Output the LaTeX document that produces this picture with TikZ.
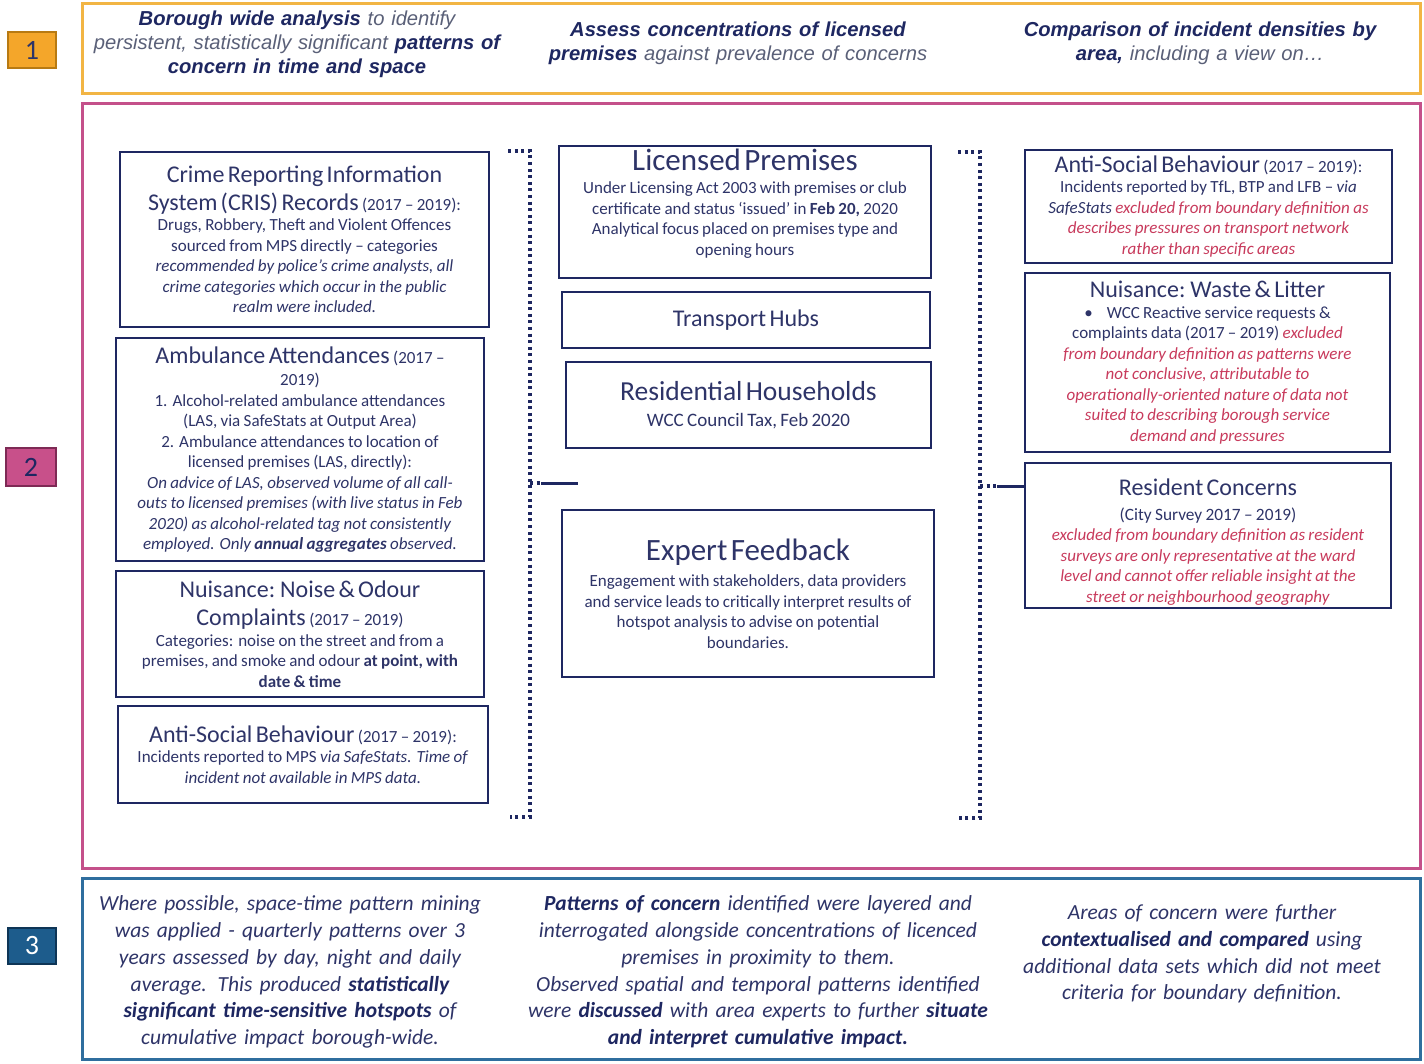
\documentclass[tikz,border=0pt]{standalone}
\usepackage{fontspec}
\setmainfont{Carlito}
\newfontfamily\topfont{Liberation Sans}
\usetikzlibrary{calc}
\definecolor{navy}{HTML}{1E2761}
\definecolor{txt}{HTML}{2E3468}
\definecolor{redx}{HTML}{C83A5C}
\definecolor{grayt}{HTML}{5A6078}
\definecolor{orfr}{HTML}{F2B544}
\definecolor{orfill}{HTML}{F4A62A}
\definecolor{orbd}{HTML}{B87A12}
\definecolor{pkfr}{HTML}{C4508A}
\definecolor{pkfill}{HTML}{C8508A}
\definecolor{pkbd}{HTML}{7E2A55}
\definecolor{blfr}{HTML}{2F6E9E}
\definecolor{blfill}{HTML}{1D5C8C}
\definecolor{blbd}{HTML}{0E3556}
\newcommand\ssz{\fontsize{17}{20.5}\selectfont}
\newcommand\tsz{\fontsize{24}{28}\selectfont}
\newcommand\rd[1]{\textcolor{redx}{\textit{#1}}}
\newcommand\gy[1]{\textcolor{grayt}{#1}}
\tikzset{
  box/.style={draw=navy, line width=2.8pt, inner sep=2pt, align=center, text=txt, fill=white},
  frame/.style={line width=3pt, inner sep=0pt},
  numbox/.style={line width=1.5pt, inner sep=0pt, font=\fontsize{28}{28}\selectfont},
  brk/.style={draw=navy, line width=3.2pt, dash pattern=on 3pt off 3.6pt},
  link/.style={draw=navy, line width=3pt},
  toptext/.style={align=center, text=navy, inner sep=0pt, font=\topfont\fontsize{20.2}{24}\selectfont\itshape},
  bottext/.style={align=center, text=txt, inner sep=0pt, font=\fontsize{21.5}{26.8}\selectfont\itshape},
}
\begin{document}
\begin{tikzpicture}[x=1pt,y=-1pt]
\fill[white] (0,0) rectangle (1424,1064);
\useasboundingbox (0,0) rectangle (1424,1064);

% section frames
\node[frame, draw=orfr, minimum width=1338pt, minimum height=90pt] (sec1) at (751.5,49) {};
\node[frame, draw=pkfr, minimum width=1338pt, minimum height=764pt] (sec2) at (751.5,486) {};
\node[frame, draw=blfr, minimum width=1338pt, minimum height=181pt] (sec3) at (751.5,968.5) {};

% number boxes
\node[numbox, draw=orbd, fill=orfill, text=txt, minimum width=48pt, minimum height=36pt] (n1) at (32,50) {1};
\node[numbox, draw=pkbd, fill=pkfill, text=navy, minimum width=50pt, minimum height=38pt] (n2) at (31,467) {2};
\node[numbox, draw=blbd, fill=blfill, text=white, minimum width=48pt, minimum height=36pt] (n3) at (32,946) {3};

% top texts
\node[toptext, text width=480pt] (t1) at (297,44) {\textbf{Borough wide analysis} \gy{to identify}\\\gy{persistent, statistically significant} \textbf{patterns of}\\\textbf{concern in time and space}};
\node[toptext, text width=430pt] (t2) at (738,43) {\textbf{Assess concentrations of licensed}\\\textbf{premises} \gy{against prevalence of concerns}};
\node[toptext, text width=430pt] (t3) at (1200,43) {\textbf{Comparison of incident densities by}\\\textbf{area,} \gy{including a view on…}};

% left column
\node[box, minimum width=369pt, minimum height=175pt, text width=362pt] (cris) at (304.5,239.5)
{\tsz Crime Reporting Information\\System (CRIS) Records {\ssz (2017 – 2019):}\par
\ssz Drugs, Robbery, Theft and Violent Offences\\sourced from MPS directly – categories\\\textit{recommended by police’s crime analysts, all}\\\textit{crime categories which occur in the public}\\\textit{realm were included.}\par};

\node[box, minimum width=368pt, minimum height=223pt, text width=362pt] (amb) at (300,449.5)
{\tsz Ambulance Attendances {\ssz (2017 –}\par\vspace{2pt}
\ssz 2019)\\1. Alcohol-related ambulance attendances\\(LAS, via SafeStats at Output Area)\\2. Ambulance attendances to location of\\licensed premises (LAS, directly):\\\textit{On advice of LAS, observed volume of all call-}\\\textit{outs to licensed premises (with live status in Feb}\\\textit{2020) as alcohol-related tag not consistently}\\\textit{employed. Only \textbf{annual aggregates} observed.}\par};

\node[box, minimum width=368pt, minimum height=126pt, text width=362pt] (noise) at (300,634)
{\tsz Nuisance: Noise \& Odour\\Complaints {\ssz (2017 – 2019)}\par
\ssz Categories: noise on the street and from a\\premises, and smoke and odour \textbf{at point, with}\\\textbf{date \& time}\par};

\node[box, minimum width=370pt, minimum height=97pt, text width=362pt] (asbl) at (303,754.5)
{\tsz Anti-Social Behaviour {\ssz (2017 – 2019):}\par
\ssz Incidents reported to MPS \textit{via SafeStats. Time of}\\\textit{incident not available in MPS data.}\par};

% middle column
\node[box, minimum width=372pt, minimum height=132pt, text width=362pt] (lp) at (745,212)
{\fontsize{31}{31}\selectfont Licensed Premises\par\vspace{3pt}
\ssz Under Licensing Act 2003 with premises or club\\certificate and status ‘issued’ in \textbf{Feb 20,} 2020\\Analytical focus placed on premises type and\\opening hours\\\rule{0pt}{14pt}\par};

\node[box, minimum width=368pt, minimum height=56pt, text width=360pt] (th) at (746,320)
{\fontsize{24}{28}\selectfont Transport Hubs\par};

\node[box, minimum width=365pt, minimum height=86pt, text width=358pt] (rh) at (748.5,405)
{\fontsize{27.5}{30}\selectfont Residential Households\par
\fontsize{19}{26}\selectfont WCC Council Tax, Feb 2020\par};

\node[box, minimum width=372pt, minimum height=167pt, text width=362pt] (ef) at (748,593.5)
{\fontsize{31}{31}\selectfont Expert Feedback\par\vspace{6pt}
\ssz Engagement with stakeholders, data providers\\and service leads to critically interpret results of\\hotspot analysis to advise on potential\\boundaries.\par};

% right column
\node[box, minimum width=367pt, minimum height=113pt, text width=360pt] (asbr) at (1208.5,206.5)
{\fontsize{24}{26}\selectfont Anti-Social Behaviour {\ssz (2017 – 2019):}\par
\ssz Incidents reported by TfL, BTP and LFB – \textit{via}\\\textit{SafeStats} \rd{excluded from boundary definition as}\\\rd{describes pressures on transport network}\\\rd{rather than specific areas}\par};

\node[box, minimum width=365pt, minimum height=179pt, text width=358pt] (waste) at (1207.5,362.5)
{\fontsize{24}{26}\selectfont Nuisance: Waste \& Litter\par
\ssz •\hspace{14pt}WCC Reactive service requests \&\\complaints data (2017 – 2019) \rd{excluded}\\\rd{from boundary definition as patterns were}\\\rd{not conclusive, attributable to}\\\rd{operationally-oriented nature of data not}\\\rd{suited to describing borough service}\\\rd{demand and pressures}\par};

\node[box, minimum width=366pt, minimum height=145pt, text width=358pt] (rc) at (1208,535.5)
{\fontsize{24}{26}\selectfont\rule{0pt}{29pt}Resident Concerns\par
\fontsize{17.3}{25}\selectfont (City Survey 2017 – 2019)\par
\ssz \rd{excluded from boundary definition as resident}\\\rd{surveys are only representative at the ward}\\\rd{level and cannot offer reliable insight at the}\\\rd{street or neighbourhood geography}\par};

% brackets
\coordinate (lbA) at (508,151);
\coordinate (lbB) at (530,151);
\coordinate (lbC) at (530,817);
\coordinate (lbD) at (510,817);
\draw[brk] (lbA) -- (lbB) -- (lbC) -- (lbD);
\coordinate (lmid) at (530,483);
\coordinate (lsolid) at (541,483);
\coordinate (lend) at (578,483);
\draw[brk] (lmid) -- (lsolid);
\draw[link] (lsolid) -- (lend);

\coordinate (rbA) at (958,152);
\coordinate (rbB) at (980,152);
\coordinate (rbC) at (980,818);
\coordinate (rbD) at (958,818);
\draw[brk] (rbA) -- (rbB) -- (rbC) -- (rbD);
\coordinate (rmid) at (980,486);
\coordinate (rsolid) at (997,486);
\draw[brk] (rmid) -- (rsolid);
\draw[link] (rsolid) -- (rsolid -| rc.west);

% bottom texts
\node[bottext, text width=470pt] (b1) at (290,972)
{Where possible, space-time pattern mining\\was applied - quarterly patterns over 3\\years assessed by day, night and daily\\average. This produced \textbf{\color{navy}statistically}\\\textbf{\color{navy}significant time-sensitive hotspots} of\\cumulative impact borough-wide.};
\node[bottext, text width=480pt] (b2) at (758,972)
{\textbf{\color{navy}Patterns of concern} identified were layered and\\interrogated alongside concentrations of licenced\\premises in proximity to them.\\Observed spatial and temporal patterns identified\\were \textbf{\color{navy}discussed} with area experts to further \textbf{\color{navy}situate}\\\textbf{\color{navy}and interpret cumulative impact.}};
\node[bottext, text width=410pt] (b3) at (1202,954)
{Areas of concern were further\\\textbf{\color{navy}contextualised and compared} using\\additional data sets which did not meet\\criteria for boundary definition.};
\end{tikzpicture}
\end{document}
